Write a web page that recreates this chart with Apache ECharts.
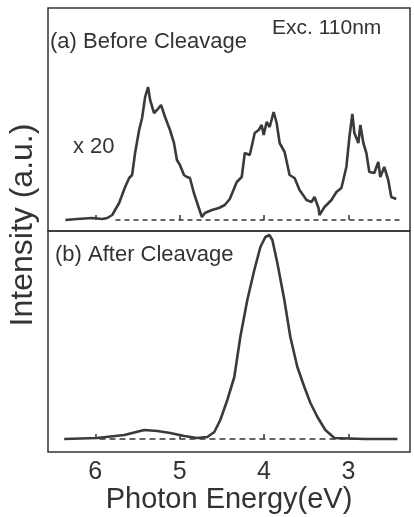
<!DOCTYPE html>
<html>
<head>
<meta charset="utf-8">
<script src="https://cdn.jsdelivr.net/npm/echarts@6/dist/echarts.min.js"></script>
<style>
html,body{margin:0;padding:0;background:#fff;}
#chart{width:414px;height:517px;}
</style>
</head>
<body>
<div id="chart"></div>
<script>
// (a) Before Cleavage (x 20), photon energy in eV and intensity in a.u.
var beforeEnergy = [6.354,6.213,6.035,5.917,5.858,5.799,5.717,5.646,5.598,5.563,5.528,5.480,5.445,5.409,5.374,5.350,5.303,5.268,5.220,5.173,5.114,5.067,5.032,4.996,4.949,4.913,4.878,4.831,4.772,4.736,4.701,4.618,4.535,4.465,4.406,4.323,4.264,4.228,4.169,4.110,4.063,4.028,4.004,3.969,3.933,3.886,3.850,3.815,3.756,3.697,3.638,3.579,3.496,3.437,3.402,3.354,3.343,3.283,3.201,3.142,3.083,3.024,2.988,2.953,2.929,2.882,2.858,2.823,2.787,2.752,2.693,2.646,2.622,2.575,2.528,2.492,2.433];
var beforeIntensity = [0,1,2,1,2,5,17,33,42,45,67,90,102,123,133,120,107,110,115,103,90,77,60,55,45,43,42,27,12,3,7,10,12,15,21,38,43,67,65,87,90,95,85,98,93,108,97,77,68,45,42,30,20,18,23,12,5,13,20,28,32,53,83,106,87,77,95,77,67,48,47,58,43,53,40,23,21];
// (b) After Cleavage
var afterEnergy = [6.368,5.976,5.656,5.419,5.265,5.111,4.945,4.790,4.672,4.589,4.518,4.435,4.352,4.281,4.198,4.115,4.043,3.984,3.937,3.901,3.842,3.759,3.688,3.605,3.522,3.450,3.367,3.273,3.166,2.810,2.419];
var afterIntensity = [0,1,4,9,8,6,3,1,2,7,19,39,62,102,139,169,192,202,204,199,176,139,102,72,52,36,22,9,1,0,0];
// dashed zero baselines
var beforeBaseline = [5.76, 2.37];
var afterBaseline = [5.95, 2.42];
var tickValues = [3, 4, 5, 6];
var tickLabels = ['3', '4', '5', '6'];

function pairs(xs, ys) { return xs.map(function (x, i) { return [x, ys[i]]; }); }

var chart = echarts.init(document.getElementById('chart'), null, {renderer: 'canvas'});
var ink = '#333';
var font = '"Liberation Sans", Arial, sans-serif';

var baseX = {
  type: 'value', inverse: true, min: 2.27, max: 6.56,
  axisLine: {show: false},
  splitLine: {show: false},
  axisTick: {show: true, inside: true, length: 5, customValues: tickValues, lineStyle: {color: ink, width: 1.5}}
};

var option = {
  backgroundColor: '#fff',
  animation: false,
  grid: [
    {left: 48, right: 4, top: 8, height: 223, show: true, borderColor: ink, borderWidth: 1.5, containLabel: false},
    {left: 48, right: 4, top: 231, height: 221, show: true, borderColor: ink, borderWidth: 1.5, containLabel: false}
  ],
  xAxis: [
    Object.assign({}, baseX, {gridIndex: 0, axisLabel: {show: false}}),
    Object.assign({}, baseX, {
      gridIndex: 1,
      axisLabel: {show: true, margin: 8, customValues: tickValues, color: ink, fontSize: 25, fontFamily: font,
        formatter: function (v) { var i = tickValues.indexOf(v); return i >= 0 ? tickLabels[i] : ''; }},
      name: 'Photon Energy(eV)', nameLocation: 'middle', nameGap: 31,
      nameTextStyle: {color: ink, fontSize: 29, fontFamily: font}
    })
  ],
  yAxis: [
    {type: 'value', gridIndex: 0, min: -11, max: 212, show: false},
    {type: 'value', gridIndex: 1, min: -13, max: 208, show: false}
  ],
  series: [
    {type: 'line', xAxisIndex: 0, yAxisIndex: 0, data: pairs(beforeBaseline, [0, 0]), showSymbol: false,
      lineStyle: {color: ink, width: 1.6, type: [5, 4]}, z: 1},
    {type: 'line', xAxisIndex: 1, yAxisIndex: 1, data: pairs(afterBaseline, [0, 0]), showSymbol: false,
      lineStyle: {color: ink, width: 1.6, type: [6, 4]}, z: 1},
    {type: 'line', xAxisIndex: 0, yAxisIndex: 0, data: pairs(beforeEnergy, beforeIntensity), showSymbol: false,
      lineStyle: {color: '#3a3a3a', width: 2.6}, z: 2},
    {type: 'line', xAxisIndex: 1, yAxisIndex: 1, data: pairs(afterEnergy, afterIntensity), showSymbol: false,
      lineStyle: {color: '#3a3a3a', width: 2.6}, z: 2}
  ],
  graphic: [
    {type: 'text', left: 272, top: 18, style: {text: 'Exc. 110nm', fill: ink, font: '21px ' + font}},
    {type: 'text', left: 50, top: 31, style: {text: '(a) Before Cleavage', fill: ink, font: '22px ' + font}},
    {type: 'text', left: 73, top: 136, style: {text: 'x 20', fill: ink, font: '22px ' + font}},
    {type: 'text', left: 55, top: 244, style: {text: '(b) After Cleavage', fill: ink, font: '22px ' + font}},
    {type: 'text', x: 23, y: 225, rotation: Math.PI / 2,
      style: {text: 'Intensity (a.u.)', fill: ink, font: '32px ' + font, textAlign: 'center', textVerticalAlign: 'middle'}}
  ]
};
chart.setOption(option);
</script>
</body>
</html>
